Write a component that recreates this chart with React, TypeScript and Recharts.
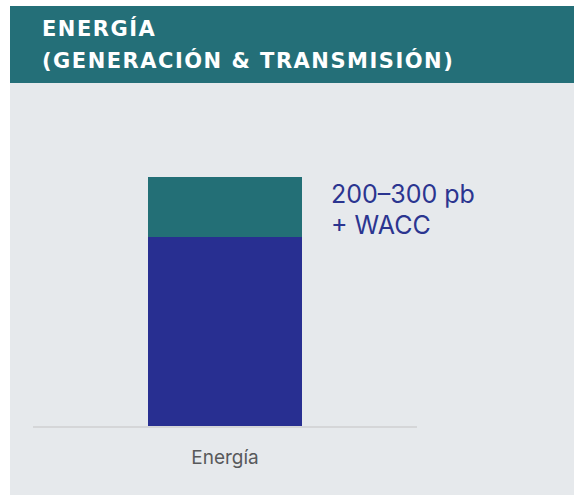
import React from "react";
import { BarChart, Bar, XAxis, YAxis, LabelList } from "recharts";

const categories = ["Energía"];
const baseWacc = [76];
const spreadBp = [24];
const annotationLines = ["200–300 pb", "+ WACC"];
const titleLines = ["ENERGÍA", "(GENERACIÓN & TRANSMISIÓN)"];

const data = categories.map((name, i) => ({
  name,
  base: baseWacc[i],
  spread: spreadBp[i],
}));

const FONT = "Inter, 'Noto Sans', sans-serif";

function EnergyTick({ x, y, payload }: any) {
  return (
    <text
      x={x}
      y={y + 37}
      textAnchor="middle"
      fill="#58595b"
      fontSize={19}
      fontFamily={FONT}
    >
      {payload.value}
    </text>
  );
}

function SpreadLabel({ x, y, width }: any) {
  const left = x + width + 29;
  return (
    <text fill="#2b3590" fontSize={25} fontFamily={FONT}>
      {annotationLines.map((line, i) => (
        <tspan key={line} x={left} y={y + 26 + i * 31}>
          {line}
        </tspan>
      ))}
    </text>
  );
}

export default function App() {
  return (
    <div
      style={{
        position: "absolute",
        left: 10,
        top: 6,
        width: 564,
        height: 489,
        background: "#e6e9ec",
        fontFamily: FONT,
      }}
    >
      <div
        style={{
          height: 77,
          background: "#246f78",
          color: "#ffffff",
          fontFamily: "'DejaVu Sans', sans-serif",
          fontWeight: 700,
          fontSize: 21,
          letterSpacing: 1.5,
          lineHeight: "32px",
          paddingLeft: 32,
          paddingTop: 7,
          boxSizing: "border-box",
        }}
      >
        {titleLines.map((t) => (
          <div key={t}>{t}</div>
        ))}
      </div>
      <BarChart
        width={564}
        height={412}
        data={data}
        margin={{ top: 94, right: 157, bottom: 38, left: 23 }}
        barSize={154}
      >
        <XAxis
          dataKey="name"
          height={30}
          tickLine={false}
          tickSize={0}
          tickMargin={0}
          axisLine={{ stroke: "#d5d6d8", strokeWidth: 2 }}
          tick={<EnergyTick />}
        />
        <YAxis hide domain={[0, 100]} />
        <Bar dataKey="base" stackId="a" fill="#282f91" isAnimationActive={false} />
        <Bar dataKey="spread" stackId="a" fill="#236f76" isAnimationActive={false}>
          <LabelList dataKey="spread" content={<SpreadLabel />} />
        </Bar>
      </BarChart>
    </div>
  );
}
